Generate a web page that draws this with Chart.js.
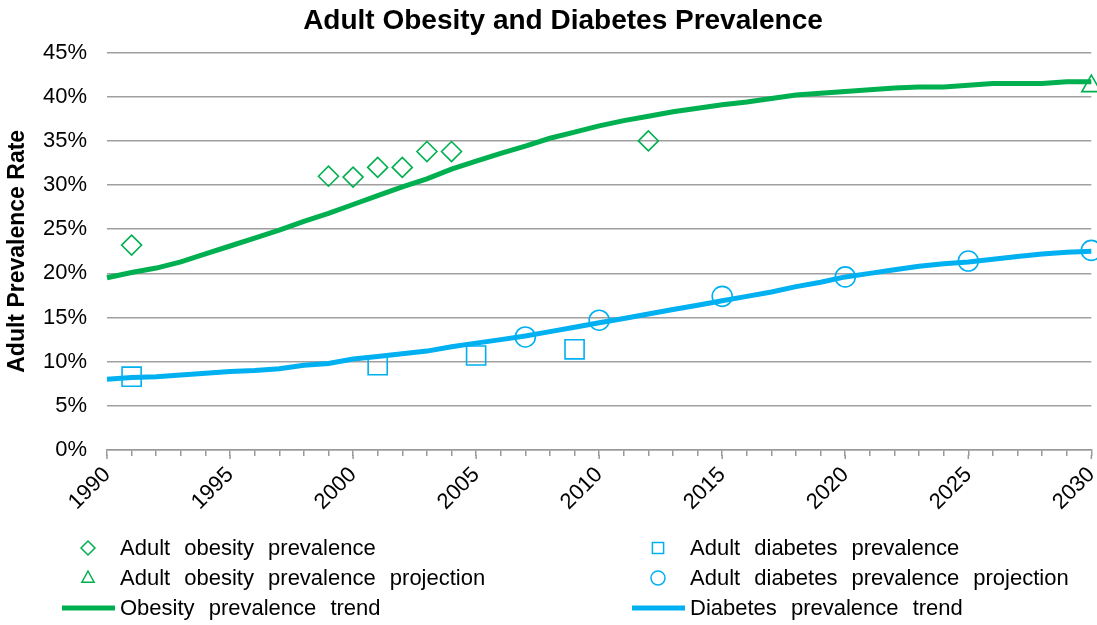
<!DOCTYPE html>
<html>
<head>
<meta charset="utf-8">
<script src="https://cdn.jsdelivr.net/npm/chart.js@4.4.1/dist/chart.umd.min.js"></script>
<style>
  html, body { margin: 0; padding: 0; background: #fff; overflow: hidden; }
  #wrap { width: 1116px; height: 625px; position: relative; }
</style>
</head>
<body>
<div id="wrap"><canvas id="chart"></canvas></div>
<script>
// trend lines, one value per year
const trendYears = [1990, 1991, 1992, 1993, 1994, 1995, 1996, 1997, 1998, 1999,
                    2000, 2001, 2002, 2003, 2004, 2005, 2006, 2007, 2008, 2009,
                    2010, 2011, 2012, 2013, 2014, 2015, 2016, 2017, 2018, 2019,
                    2020, 2021, 2022, 2023, 2024, 2025, 2026, 2027, 2028, 2029, 2030];
const obesityTrend = [19.5, 20.1, 20.6, 21.3, 22.2, 23.1, 24.0, 24.9, 25.9, 26.8,
                      27.8, 28.8, 29.8, 30.7, 31.8, 32.7, 33.6, 34.4, 35.3, 36.0,
                      36.7, 37.3, 37.8, 38.3, 38.7, 39.1, 39.4, 39.8, 40.2, 40.4,
                      40.6, 40.8, 41.0, 41.1, 41.1, 41.3, 41.5, 41.5, 41.5, 41.7, 41.7];
const diabetesTrend = [8.0, 8.2, 8.3, 8.5, 8.7, 8.9, 9.0, 9.2, 9.6, 9.8,
                       10.3, 10.6, 10.9, 11.2, 11.7, 12.1, 12.5, 12.9, 13.4, 13.9,
                       14.4, 14.9, 15.4, 15.9, 16.4, 16.9, 17.4, 17.9, 18.5, 19.0,
                       19.6, 20.0, 20.4, 20.8, 21.1, 21.3, 21.6, 21.9, 22.2, 22.4, 22.5];

// observed and projected points
const obesityYears = [1991, 1999, 2000, 2001, 2002, 2003, 2004, 2012];
const obesityValues = [23.2, 31.0, 30.9, 32.0, 32.0, 33.8, 33.8, 35.0];
const obesityProjYears = [2030];
const obesityProjValues = [41.2];
const diabetesYears = [1991, 2001, 2005, 2009];
const diabetesValues = [8.3, 9.6, 10.7, 11.4];
const diabetesProjYears = [2007, 2010, 2015, 2020, 2025, 2030];
const diabetesProjValues = [12.8, 14.7, 17.4, 19.6, 21.4, 22.6];

const yTicks = [0, 5, 10, 15, 20, 25, 30, 35, 40, 45];

const GREEN = '#00B050';
const BLUE = '#00B0F0';
const FONT = '"Liberation Sans", Arial, sans-serif';

function pts(xs, ys) {
  return xs.map((x, i) => ({ x: x, y: ys[i] }));
}

// legend drawn in two columns under the axis
const legendSlots = [
  { x: 60, y: 548 }, { x: 630, y: 548 },
  { x: 60, y: 578 }, { x: 630, y: 578 },
  { x: 60, y: 608 }, { x: 630, y: 608 }
];

function drawMarker(ctx, style, cx, cy, r) {
  ctx.beginPath();
  if (style === 'rectRot') {
    ctx.moveTo(cx, cy - r); ctx.lineTo(cx + r, cy); ctx.lineTo(cx, cy + r); ctx.lineTo(cx - r, cy); ctx.closePath();
  } else if (style === 'triangle') {
    ctx.moveTo(cx, cy - r); ctx.lineTo(cx + r * 0.87, cy + r * 0.6); ctx.lineTo(cx - r * 0.87, cy + r * 0.6); ctx.closePath();
  } else if (style === 'rect') {
    ctx.rect(cx - r * 0.8, cy - r * 0.8, r * 1.6, r * 1.6);
  } else {
    ctx.arc(cx, cy, r, 0, Math.PI * 2);
  }
  ctx.stroke();
}

const legendPlugin = {
  id: 'twoColLegend',
  afterDraw(chart) {
    const ctx = chart.ctx;
    const sets = chart.data.datasets.slice().sort((a, b) => a.legendIndex - b.legendIndex);
    ctx.save();
    ctx.font = '22px ' + FONT;
    ctx.textBaseline = 'middle';
    ctx.fillStyle = '#000';
    if ('wordSpacing' in ctx) ctx.wordSpacing = '8px';
    sets.forEach((ds, i) => {
      const s = legendSlots[i];
      ctx.strokeStyle = ds.borderColor;
      if (ds.showLine === false) {
        ctx.lineWidth = 1.5;
        drawMarker(ctx, ds.pointStyle, s.x + 28, s.y, 7);
      } else {
        ctx.lineWidth = 5;
        ctx.beginPath();
        ctx.moveTo(s.x + 2, s.y);
        ctx.lineTo(s.x + 55, s.y);
        ctx.stroke();
      }
      ctx.fillText(ds.label, s.x + 60, s.y + 1);
    });
    ctx.restore();
  }
};

// longer ticks at every fifth year
const majorTickPlugin = {
  id: 'majorTicks',
  afterDraw(chart) {
    const xs = chart.scales.x;
    const ctx = chart.ctx;
    const bottom = chart.chartArea.bottom;
    ctx.save();
    ctx.strokeStyle = '#999';
    ctx.lineWidth = 1.5;
    xs.ticks.forEach(t => {
      if (t.value % 5 === 0) {
        const px = xs.getPixelForValue(t.value);
        ctx.beginPath();
        ctx.moveTo(px, bottom + 5);
        ctx.lineTo(px, bottom + 9);
        ctx.stroke();
      }
    });
    ctx.restore();
  }
};

new Chart(document.getElementById('chart'), {
  type: 'line',
  data: {
    datasets: [{
      label: 'Adult obesity prevalence',
      legendIndex: 0,
      data: pts(obesityYears, obesityValues),
      showLine: false,
      pointStyle: 'rectRot',
      pointRadius: 10,
      borderColor: GREEN,
      backgroundColor: 'transparent',
      pointBorderWidth: 1.6,
      order: 0
    }, {
      label: 'Adult diabetes prevalence',
      legendIndex: 1,
      data: pts(diabetesYears, diabetesValues),
      showLine: false,
      pointStyle: 'rect',
      pointRadius: 13.5,
      borderColor: BLUE,
      backgroundColor: 'transparent',
      pointBorderWidth: 1.6,
      order: 0
    }, {
      label: 'Adult obesity prevalence projection',
      legendIndex: 2,
      data: pts(obesityProjYears, obesityProjValues),
      showLine: false,
      pointStyle: 'triangle',
      pointRadius: 11,
      borderColor: GREEN,
      backgroundColor: 'transparent',
      pointBorderWidth: 1.6,
      order: 0
    }, {
      label: 'Adult diabetes prevalence projection',
      legendIndex: 3,
      data: pts(diabetesProjYears, diabetesProjValues),
      showLine: false,
      pointStyle: 'circle',
      pointRadius: 10,
      borderColor: BLUE,
      backgroundColor: 'transparent',
      pointBorderWidth: 1.6,
      order: 0
    }, {
      label: 'Obesity prevalence trend',
      legendIndex: 4,
      data: pts(trendYears, obesityTrend),
      borderColor: GREEN,
      borderWidth: 5,
      pointRadius: 0,
      tension: 0,
      fill: false,
      order: 1
    }, {
      label: 'Diabetes prevalence trend',
      legendIndex: 5,
      data: pts(trendYears, diabetesTrend),
      borderColor: BLUE,
      borderWidth: 5,
      pointRadius: 0,
      tension: 0,
      fill: false,
      order: 1
    }]
  },
  options: {
    responsive: true,
    maintainAspectRatio: false,
    animation: false,
    clip: false,
    layout: { padding: { left: 7, right: -3, top: 0, bottom: 95 } },
    plugins: {
      legend: { display: false },
      tooltip: { enabled: false },
      title: {
        display: true,
        text: 'Adult Obesity and Diabetes Prevalence',
        color: '#000',
        font: { family: FONT, size: 28, weight: 'bold' },
        padding: { top: 4, bottom: 15 }
      }
    },
    scales: {
      x: {
        type: 'linear',
        min: 1990,
        max: 2030,
        afterFit(scale) {
          scale.height = 80;
        },
        border: { display: true, color: '#999', width: 1.5 },
        grid: { drawOnChartArea: false, drawTicks: true, tickLength: 6, color: '#999', lineWidth: 1.5 },
        ticks: {
          stepSize: 1,
          autoSkip: false,
          maxRotation: 45,
          minRotation: 45,
          padding: 6,
          color: '#000',
          font: { family: FONT, size: 22 },
          callback: v => (v % 5 === 0 ? String(v) : '')
        }
      },
      y: {
        min: 0,
        max: 45,
        afterFit(scale) {
          scale.width = 100;
          scale.paddingTop = 0;
          scale.paddingBottom = 0;
        },
        afterBuildTicks(scale) { scale.ticks = yTicks.map(v => ({ value: v })); },
        border: { display: false },
        grid: { color: '#a0a0a0', lineWidth: 1.5, drawTicks: false },
        ticks: {
          padding: 20,
          color: '#000',
          font: { family: FONT, size: 22 },
          callback: v => v + '%'
        },
        title: {
          display: true,
          text: 'Adult Prevalence Rate',
          color: '#000',
          font: { family: FONT, size: 23, weight: 'bold' },
          padding: { top: -3, bottom: 0 }
        }
      }
    }
  },
  plugins: [legendPlugin, majorTickPlugin]
});
</script>
</body>
</html>
